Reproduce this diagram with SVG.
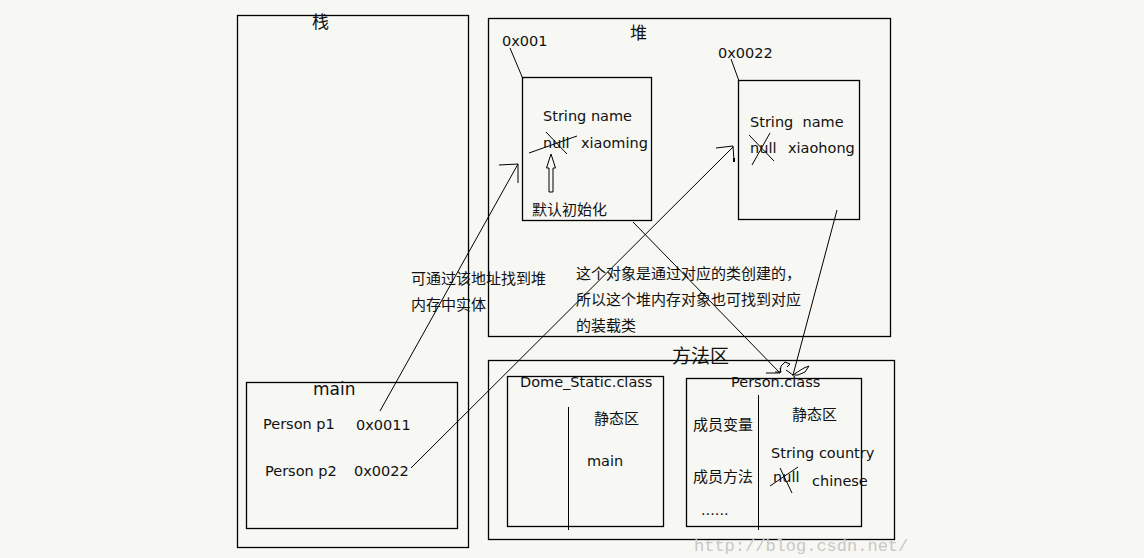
<svg xmlns="http://www.w3.org/2000/svg" width="1144" height="558" viewBox="0 0 1144 558">
<style>
.bx{fill:none;stroke:#000;stroke-width:1.3}
.ln{fill:none;stroke:#000;stroke-width:1}
.t{font-family:"DejaVu Sans","Noto Sans CJK SC",sans-serif;font-size:14.5px;fill:#111}
.c{font-family:"Noto Sans CJK SC",sans-serif;font-size:15px;fill:#111}
.h{font-family:"Noto Sans CJK SC",sans-serif;font-size:17px;fill:#111}
.wm{font-family:"Liberation Mono","DejaVu Sans Mono",monospace;font-size:17px;fill:#c8c8c4}
</style>
<rect width="1144" height="558" fill="#f7f7f3"/>

<g id="stack">
<rect class="bx" x="237.5" y="15.5" width="231" height="532"/>
<text class="h" x="312" y="28">栈</text>
</g>

<g id="main-frame">
<rect class="bx" x="246.5" y="382.5" width="211" height="146"/>
<text class="t" x="313" y="395" style="font-size:17px">main</text>
<text class="t" x="263" y="429">Person p1</text>
<text class="t" x="356" y="430">0x0011</text>
<text class="t" x="265" y="476">Person p2</text>
<text class="t" x="354" y="476">0x0022</text>
</g>

<g id="heap">
<rect class="bx" x="488.5" y="18.5" width="402" height="318"/>
<text class="h" x="630" y="39">堆</text>
</g>

<g id="obj1">
<text class="t" x="502" y="46">0x001</text>
<line class="ln" x1="510" y1="48" x2="523" y2="79"/>
<rect class="bx" x="522.5" y="77.5" width="129" height="143"/>
<text class="t" x="543" y="121">String name</text>
<text class="t" x="543" y="148">null</text>
<line class="ln" x1="529" y1="153" x2="577" y2="136"/>
<line class="ln" x1="546" y1="132" x2="567" y2="154"/>
<text class="t" x="581" y="148">xiaoming</text>
<path class="ln" d="M549,192 L549,168 L546.5,168 L551,154 L555.5,168 L553,168 L553,192 Z"/>
<text class="c" x="532" y="215">默认初始化</text>
</g>

<g id="obj2">
<text class="t" x="718" y="58">0x0022</text>
<line class="ln" x1="731" y1="59" x2="739" y2="81"/>
<rect class="bx" x="738.5" y="80.5" width="121" height="139"/>
<text class="t" x="750" y="127" xml:space="preserve">String  name</text>
<text class="t" x="750" y="153">null</text>
<text class="t" x="788" y="153">xiaohong</text>
<line class="ln" x1="749" y1="135" x2="774" y2="161"/>
<line class="ln" x1="770" y1="133" x2="752" y2="165"/>
</g>

<g id="method-area">
<rect class="bx" x="488.5" y="360.5" width="406" height="179"/>
<text class="h" x="672" y="363" style="font-size:19px">方法区</text>
</g>

<g id="dome-static">
<rect class="bx" x="507.5" y="376.5" width="156" height="150"/>
<text class="t" x="520" y="387">Dome_Static.class</text>
<line class="ln" x1="568.5" y1="407" x2="568.5" y2="530"/>
<text class="c" x="594" y="424">静态区</text>
<text class="t" x="587" y="466">main</text>
</g>

<g id="person-class">
<rect class="bx" x="686.5" y="378.5" width="175" height="148"/>
<text class="t" x="731" y="387">Person.class</text>
<line class="ln" x1="758.5" y1="395" x2="758.5" y2="530"/>
<text class="c" x="693" y="430">成员变量</text>
<text class="c" x="792" y="420">静态区</text>
<text class="t" x="771" y="458">String country</text>
<text class="c" x="693" y="482">成员方法</text>
<text class="t" x="773" y="482">null</text>
<line class="ln" x1="770" y1="486" x2="798" y2="467"/>
<line class="ln" x1="780" y1="468" x2="792" y2="493"/>
<text class="t" x="812" y="486">chinese</text>
<text class="t" x="701" y="515">......</text>
</g>

<g id="notes">
<text class="c" x="411" y="284">可通过该地址找到堆</text>
<text class="c" x="411" y="310">内存中实体</text>
<text class="c" x="576" y="279">这个对象是通过对应的类创建的，</text>
<text class="c" x="576" y="305">所以这个堆内存对象也可找到对应</text>
<text class="c" x="576" y="331">的装载类</text>
</g>

<g id="connectors">
<line class="ln" x1="380" y1="411" x2="518" y2="164"/>
<polyline class="ln" points="499,165 518,164 518,183"/>
<line class="ln" x1="411" y1="468" x2="733" y2="147"/>
<polyline class="ln" points="716,148 733,146 734,161"/>
<rect x="733" y="158" width="2" height="4" fill="#000"/>
<line class="ln" x1="633" y1="222" x2="780" y2="373"/>
<line class="ln" x1="837" y1="210" x2="793" y2="375"/>
<polyline class="ln" points="766,373 780,373 781,366 785,362 790,364 787,367"/>
<polyline class="ln" points="775,372 781,372 780,368"/>
<polyline class="ln" points="786,370 793,375 799,371 804,368 809,366 805,372 798,375 792,375"/>
</g>

<text class="wm" x="694" y="551">http://blog.csdn.net/</text>
</svg>
